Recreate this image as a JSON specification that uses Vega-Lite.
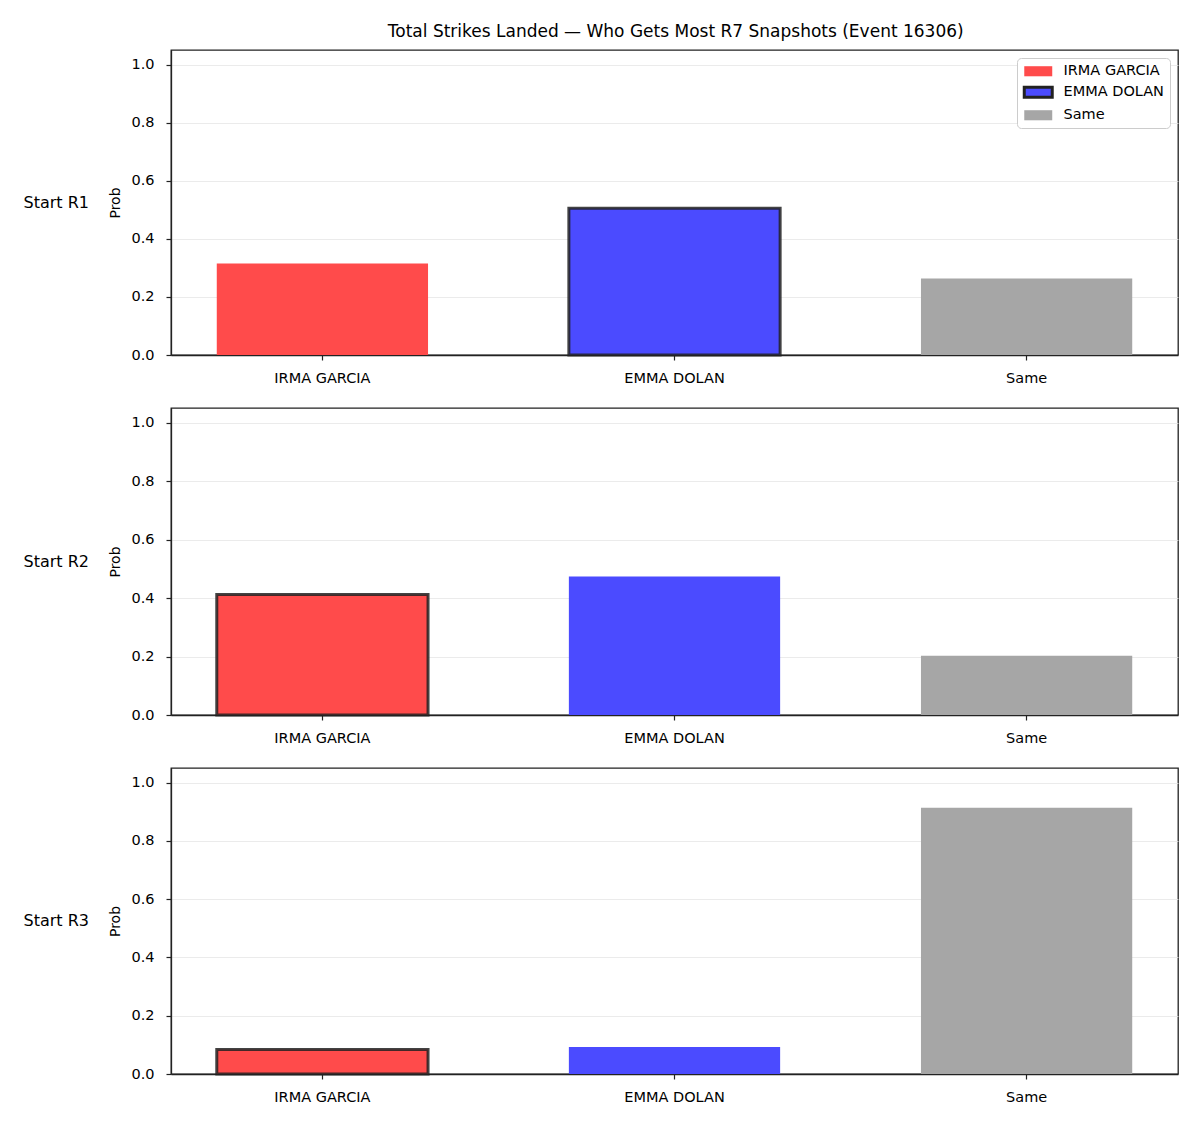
{
  "$schema": "https://vega.github.io/schema/vega-lite/v6.json",
  "background": "white",
  "padding": {"left": 22, "top": 23, "right": 20, "bottom": 5},
  "title": {"text": "Total Strikes Landed — Who Gets Most R7 Snapshots (Event 16306)", "font": "DejaVu Sans", "fontSize": 17, "fontWeight": "normal", "color": "#000", "anchor": "middle", "offset": 8, "dx": 75},
  "datasets": {
    "d": [
      {"panel": "R1", "cand": "IRMA GARCIA", "prob": 0.315, "hl": false},
      {"panel": "R1", "cand": "EMMA DOLAN", "prob": 0.505, "hl": true},
      {"panel": "R1", "cand": "Same", "prob": 0.263, "hl": false},
      {"panel": "R2", "cand": "IRMA GARCIA", "prob": 0.412, "hl": true},
      {"panel": "R2", "cand": "EMMA DOLAN", "prob": 0.474, "hl": false},
      {"panel": "R2", "cand": "Same", "prob": 0.203, "hl": false},
      {"panel": "R3", "cand": "IRMA GARCIA", "prob": 0.084, "hl": true},
      {"panel": "R3", "cand": "EMMA DOLAN", "prob": 0.093, "hl": false},
      {"panel": "R3", "cand": "Same", "prob": 0.914, "hl": false}
    ]
  },
  "config": {
    "font": "DejaVu Sans",
    "view": {"stroke": "#222", "strokeWidth": 1.3},
    "axis": {"labelFont": "DejaVu Sans", "labelFontSize": 14.5, "labelColor": "#000", "tickColor": "#222", "domainColor": "#222", "domainWidth": 1.3, "tickSize": 5, "tickWidth": 1.2, "titleFont": "DejaVu Sans", "titleFontWeight": "normal", "titleFontSize": 14, "titleColor": "#000"},
    "concat": {"spacing": 21}
  },
  "resolve": {"legend": {"color": "independent"}},
  "vconcat": [
    {
      "width": 1007, "height": 305,
      "title": {"text": "Start R1", "orient": "left", "angle": 0, "anchor": "middle", "fontSize": 16, "fontWeight": "normal", "align": "left", "baseline": "middle", "offset": 20},
      "transform": [{"filter": "datum.panel === 'R1'"}],
      "data": {"name": "d"},
      "mark": {"type": "bar", "stroke": "#222", "strokeOpacity": 0.85},
      "encoding": {
        "x": {"field": "cand", "type": "nominal", "sort": ["IRMA GARCIA", "EMMA DOLAN", "Same"], "scale": {"paddingInner": 0.4, "paddingOuter": 0.13}, "axis": {"title": null, "labelAngle": 0, "labelPadding": 11}},
        "y": {"field": "prob", "type": "quantitative", "scale": {"domain": [0, 1.05], "nice": false}, "axis": {"title": "Prob", "values": [0, 0.2, 0.4, 0.6, 0.8, 1.0], "format": ".1f", "gridColor": "#e6e6e6", "gridWidth": 0.8, "titlePadding": 8, "labelPadding": 12}},
        "color": {"field": "cand", "type": "nominal", "scale": {"domain": ["IRMA GARCIA", "EMMA DOLAN", "Same"], "range": ["#ff4b4b", "#4b4bff", "#a6a6a6"]},
          "legend": {"title": null, "orient": "top-right", "offset": 8, "labelFontSize": 14.5, "labelFont": "DejaVu Sans", "labelColor": "#000", "labelOffset": 18, "symbolOffset": 8, "symbolType": "M-1.5,-0.54H1.5V0.54H-1.5Z", "symbolSize": 348, "symbolOpacity": 1, "symbolStrokeColor": "#222", "symbolStrokeWidth": {"expr": "datum.value === 'EMMA DOLAN' ? 3 : 0"}, "strokeColor": "#cccccc", "fillColor": "white", "padding": 6, "cornerRadius": 4, "rowPadding": 3}},
        "strokeWidth": {"condition": {"test": "datum.hl", "value": 3}, "value": 0}
      }
    },
    {
      "width": 1007, "height": 307,
      "title": {"text": "Start R2", "orient": "left", "angle": 0, "anchor": "middle", "fontSize": 16, "fontWeight": "normal", "align": "left", "baseline": "middle", "offset": 20},
      "transform": [{"filter": "datum.panel === 'R2'"}],
      "data": {"name": "d"},
      "mark": {"type": "bar", "stroke": "#222", "strokeOpacity": 0.85},
      "encoding": {
        "x": {"field": "cand", "type": "nominal", "sort": ["IRMA GARCIA", "EMMA DOLAN", "Same"], "scale": {"paddingInner": 0.4, "paddingOuter": 0.13}, "axis": {"title": null, "labelAngle": 0, "labelPadding": 11}},
        "y": {"field": "prob", "type": "quantitative", "scale": {"domain": [0, 1.05], "nice": false}, "axis": {"title": "Prob", "values": [0, 0.2, 0.4, 0.6, 0.8, 1.0], "format": ".1f", "gridColor": "#e6e6e6", "gridWidth": 0.8, "titlePadding": 8, "labelPadding": 12}},
        "color": {"field": "cand", "type": "nominal", "scale": {"domain": ["IRMA GARCIA", "EMMA DOLAN", "Same"], "range": ["#ff4b4b", "#4b4bff", "#a6a6a6"]}, "legend": null},
        "strokeWidth": {"condition": {"test": "datum.hl", "value": 3}, "value": 0}
      }
    },
    {
      "width": 1007, "height": 306,
      "title": {"text": "Start R3", "orient": "left", "angle": 0, "anchor": "middle", "fontSize": 16, "fontWeight": "normal", "align": "left", "baseline": "middle", "offset": 20},
      "transform": [{"filter": "datum.panel === 'R3'"}],
      "data": {"name": "d"},
      "mark": {"type": "bar", "stroke": "#222", "strokeOpacity": 0.85},
      "encoding": {
        "x": {"field": "cand", "type": "nominal", "sort": ["IRMA GARCIA", "EMMA DOLAN", "Same"], "scale": {"paddingInner": 0.4, "paddingOuter": 0.13}, "axis": {"title": null, "labelAngle": 0, "labelPadding": 11}},
        "y": {"field": "prob", "type": "quantitative", "scale": {"domain": [0, 1.05], "nice": false}, "axis": {"title": "Prob", "values": [0, 0.2, 0.4, 0.6, 0.8, 1.0], "format": ".1f", "gridColor": "#e6e6e6", "gridWidth": 0.8, "titlePadding": 8, "labelPadding": 12}},
        "color": {"field": "cand", "type": "nominal", "scale": {"domain": ["IRMA GARCIA", "EMMA DOLAN", "Same"], "range": ["#ff4b4b", "#4b4bff", "#a6a6a6"]}, "legend": null},
        "strokeWidth": {"condition": {"test": "datum.hl", "value": 3}, "value": 0}
      }
    }
  ]
}
